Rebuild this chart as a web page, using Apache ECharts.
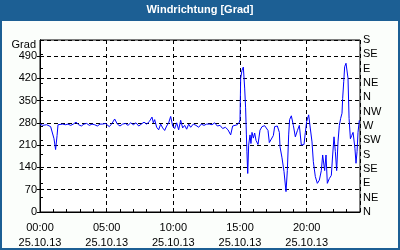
<!DOCTYPE html>
<html>
<head>
<meta charset="utf-8">
<script src="https://cdn.jsdelivr.net/npm/echarts@6/dist/echarts.min.js"></script>
<style>
html,body{margin:0;padding:0;}
#frame{position:absolute;left:0;top:0;width:400px;height:250px;background:#1c5f94;}
#inner{position:absolute;left:2px;top:21px;width:396px;height:227px;background:#fbfefb;}
#c{position:absolute;left:0;top:0;width:400px;height:250px;}
</style>
</head>
<body>
<div id="frame"><div id="inner"></div></div>
<div id="c"></div>
<script>
const titleText = 'Windrichtung [Grad]';
const leftAxisName = 'Grad';
const dateLabel = '25.10.13';
const directionLabels = ['N','NE','E','SE','S','SW','W','NW','N','NE','E','SE','S'];

const hours = [
  0.0,0.2,0.35,0.5,0.65,0.8,0.95,1.05,1.17,1.28,1.35,1.5,1.7,1.9,2.1,2.3,2.5,2.7,2.9,3.1,
  3.3,3.5,3.7,3.9,4.1,4.3,4.5,4.7,4.9,5.05,5.2,5.4,5.6,5.8,6.0,6.2,6.4,6.6,6.8,7.0,
  7.2,7.4,7.6,7.8,8.0,8.2,8.4,8.5,8.6,8.75,8.9,9.05,9.2,9.35,9.5,9.65,9.8,9.95,10.1,10.25,
  10.4,10.55,10.7,10.85,11.0,11.15,11.3,11.5,11.7,11.9,12.1,12.3,12.5,12.7,12.9,13.1,13.3,13.5,13.7,13.9,
  14.1,14.3,14.45,14.6,14.8,14.95,15.0,15.05,15.15,15.25,15.35,15.42,15.48,15.52,15.58,15.65,15.75,15.82,15.9,16.0,
  16.1,16.2,16.35,16.5,16.65,16.85,17.0,17.1,17.2,17.35,17.5,17.6,17.8,17.95,18.0,18.15,18.3,18.45,18.55,18.65,
  18.72,18.85,19.0,19.15,19.3,19.45,19.6,19.8,19.9,20.0,20.15,20.25,20.4,20.5,20.65,20.8,20.95,21.1,21.2,21.35,
  21.45,21.55,21.7,21.85,21.95,22.05,22.15,22.25,22.35,22.45,22.55,22.65,22.7,22.78,22.85,22.95,23.05,23.1,23.18,23.28,
  23.38,23.48,23.55,23.62,23.7,23.78,23.85,23.95
];
const degrees = [
  276,272,278,274,276,268,262,230,196,240,274,270,276,274,276,272,276,282,274,270,
  276,278,272,276,274,270,276,276,278,280,268,278,292,276,270,276,278,272,280,274,
  280,270,276,282,276,284,298,280,290,266,258,276,264,256,270,280,300,270,262,280,
  258,288,264,272,260,276,266,276,272,266,276,272,276,276,274,280,270,272,262,266,
  258,242,270,276,274,282,290,420,445,455,389,327,242,189,121,210,242,215,250,232,
  248,225,212,257,268,271,268,256,218,214,240,268,270,250,205,170,127,64,130,242,
  290,302,272,236,255,272,210,212,250,284,305,270,220,158,111,90,100,130,179,130,
  179,90,105,115,179,236,190,130,220,272,294,310,357,409,456,467,470,420,294,230,
  240,250,250,200,153,190,250,288
];
const hourTicks = [0,5,10,15,20];

const data = hours.map((h, i) => [h, degrees[i]]);
const font = 'Liberation Sans, Arial, sans-serif';
const dashed = {show: true, lineStyle: {color: '#000', type: [4, 3], width: 1}};

const chart = echarts.init(document.getElementById('c'), null, {renderer: 'canvas'});
chart.setOption({
  animation: false,
  backgroundColor: 'transparent',
  title: {
    text: titleText, left: 'center', top: 4, padding: 0,
    textStyle: {color: '#ffffff', fontSize: 11, fontWeight: 'bold', fontFamily: font}
  },
  grid: {left: 40, right: 40, top: 40, bottom: 38, show: true, borderColor: '#000', borderWidth: 1, backgroundColor: '#ffffff'},
  xAxis: [{
    type: 'value', min: 0, max: 24, interval: 5,
    axisLine: {show: true, lineStyle: {color: '#000'}},
    axisTick: {show: false},
    splitLine: dashed,
    axisLabel: {
      color: '#000', fontSize: 11, fontFamily: font, margin: 8, lineHeight: 15,
      showMaxLabel: false,
      formatter: v => hourTicks.indexOf(v) >= 0 ? (String(v).padStart(2, '0') + ':00\n' + dateLabel) : ''
    }
  }, {
    type: 'value', min: 0, max: 24, interval: 1, position: 'bottom',
    axisLine: {show: false}, axisLabel: {show: false}, splitLine: {show: false},
    axisTick: {show: true, inside: true, length: 3, lineStyle: {color: '#000'}}
  }],
  yAxis: [{
    type: 'value', min: 0, max: 540, interval: 70,
    name: leftAxisName, nameLocation: 'end', nameGap: 0,
    nameTextStyle: {color: '#000', fontSize: 11, fontFamily: font, align: 'right', verticalAlign: 'top', padding: [1, 4, 0, 0]},
    axisLine: {show: true, lineStyle: {color: '#000'}},
    axisTick: {show: true, length: 3, lineStyle: {color: '#000'}},
    splitLine: dashed,
    axisLabel: {color: '#000', fontSize: 11, fontFamily: font, margin: 3, showMaxLabel: false}
  }, {
    type: 'value', min: 0, max: 540, interval: 45, position: 'right',
    axisLine: {show: true, lineStyle: {color: '#000'}},
    axisTick: {show: true, length: 3, lineStyle: {color: '#000'}},
    splitLine: {show: false},
    axisLabel: {color: '#000', fontSize: 11, fontFamily: font, margin: 3,
      formatter: v => directionLabels[Math.round(v / 45)] || ''}
  }],
  series: [{
    type: 'line', data: data, showSymbol: false, symbol: 'none',
    lineStyle: {color: '#0000ff', width: 1}, itemStyle: {color: '#0000ff'}, z: 3
  }]
});
</script>
</body>
</html>
